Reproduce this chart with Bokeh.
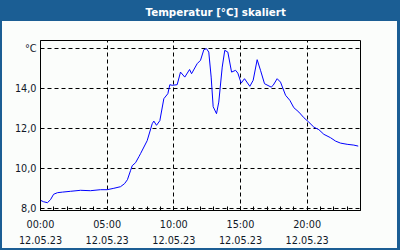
from bokeh.plotting import figure
from bokeh.models import FixedTicker, ColumnDataSource, Title
from bokeh.embed import file_html
from bokeh.resources import INLINE

title_text = "Temperatur [°C] skaliert"
hours = [0.0, 0.22, 0.52, 0.75, 0.98, 1.27, 1.65, 2.25, 3.0, 3.75,
         4.5, 5.0, 5.5, 6.0, 6.3, 6.52, 6.75, 6.88, 7.13, 7.38,
         7.5, 8.0, 8.38, 8.5, 8.7, 8.95, 9.25, 9.55, 9.7, 9.88,
         10.25, 10.5, 10.82, 11.18, 11.33, 11.75, 12.0, 12.25, 12.45, 12.62,
         12.8, 12.95, 13.2, 13.37, 13.63, 13.82, 14.05, 14.33, 14.63, 14.8,
         15.05, 15.3, 15.7, 15.95, 16.25, 16.5, 16.8, 17.3, 17.45, 17.75,
         18.0, 18.38, 18.7, 19.0, 19.38, 19.75, 20.12, 20.5, 20.88, 21.25,
         21.75, 22.13, 22.5, 23.0, 23.5, 23.83]
temps = [8.42, 8.35, 8.30, 8.45, 8.72, 8.80, 8.83, 8.87, 8.92, 8.90,
         8.95, 8.95, 9.02, 9.10, 9.25, 9.45, 9.90, 10.15, 10.30, 10.60,
         10.75, 11.40, 12.25, 12.38, 12.17, 12.40, 13.50, 13.75, 14.20, 14.17,
         14.20, 14.83, 14.58, 14.96, 14.75, 15.25, 15.42, 15.95, 16.00, 15.83,
         14.58, 13.10, 12.75, 13.33, 15.08, 15.92, 15.83, 14.83, 14.92, 14.78,
         14.28, 14.50, 14.12, 14.42, 15.45, 14.92, 14.25, 14.08, 14.17, 14.50,
         14.33, 13.67, 13.42, 13.05, 12.83, 12.55, 12.33, 12.08, 11.95, 11.72,
         11.55, 11.38, 11.28, 11.22, 11.18, 11.13]
x_ticks = [0, 5, 10, 15, 20]
x_labels = ["00:00\n12.05.23", "05:00\n12.05.23", "10:00\n12.05.23",
            "15:00\n12.05.23", "20:00\n12.05.23"]
y_ticks = [8, 10, 12, 14, 16]
y_labels = ["8,0", "10,0", "12,0", "14,0", "°C"]

BLUE = "#1b5e94"
BG = "#fbfdfb"
TXT = "#101828"

src = ColumnDataSource(dict(h=hours, t=temps))

p = figure(width=400, height=250, output_backend="svg", toolbar_location=None,
           x_range=(0, 24), y_range=(7.91, 16.41),
           min_border_left=40, min_border_right=40, min_border_top=40,
           min_border_bottom=40)
p.background_fill_color = BG
p.border_fill_alpha = 0.0
p.outline_line_color = "black"
p.outline_line_width = 1
p.styles = {
    "background": (
        f"linear-gradient(to right, {BLUE} 2px, transparent 2px, "
        f"transparent 397px, {BLUE} 397px), "
        f"linear-gradient(to bottom, {BLUE} 21px, {BG} 21px, "
        f"{BG} 248px, {BLUE} 248px)"
    )
}

# spacer between frame and the title bar
p.add_layout(Title(text=" ", text_font_size="1px", standoff=15), "above")

p.title.text = title_text
p.title.text_color = "white"
p.title.text_font = "DejaVu Sans"
p.title.text_font_style = "bold"
p.title.text_font_size = "10.3px"
p.title.align = "left"
p.title.vertical_align = "middle"
p.title.offset = 105
p.title.standoff = 7

p.line("h", "t", source=src, line_color="#0000ff", line_width=1)

xa = p.xaxis[0]
xa.ticker = FixedTicker(ticks=x_ticks, minor_ticks=list(range(0, 25)))
xa.major_label_overrides = {k: v for k, v in zip(x_ticks, x_labels)}
xa.major_tick_in = 4
xa.major_tick_out = 0
xa.minor_tick_in = 4
xa.minor_tick_out = 0
xa.axis_line_color = "black"
xa.major_label_text_font = "DejaVu Sans"
xa.major_label_text_font_size = "9.7px"
xa.major_label_text_color = TXT
xa.major_label_text_line_height = 1.5
xa.major_label_standoff = 8

ya = p.yaxis[0]
ya.ticker = FixedTicker(ticks=y_ticks, minor_ticks=[])
ya.major_label_overrides = {k: v for k, v in zip(y_ticks, y_labels)}
ya.major_tick_in = 0
ya.major_tick_out = 0
ya.minor_tick_in = 0
ya.minor_tick_out = 0
ya.axis_line_color = "black"
ya.major_label_text_font = "DejaVu Sans"
ya.major_label_text_font_size = "9.7px"
ya.major_label_text_color = TXT
ya.major_label_standoff = 4

for g in (p.xgrid[0], p.ygrid[0]):
    g.grid_line_color = "black"
    g.grid_line_dash = "4 3"
    g.grid_line_width = 1
p.xgrid[0].ticker = FixedTicker(ticks=x_ticks)
p.ygrid[0].ticker = FixedTicker(ticks=y_ticks)

open("out.html", "w").write(file_html(p, INLINE))
